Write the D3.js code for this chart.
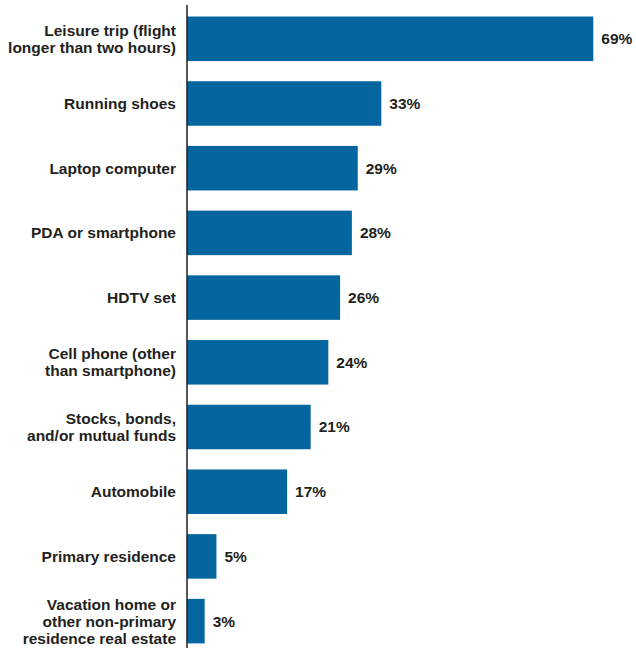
<!DOCTYPE html>
<html>
<head>
<meta charset="utf-8">
<script src="https://cdn.jsdelivr.net/npm/d3@7"></script>
<style>
  html, body { margin: 0; padding: 0; background: #fff; }
  svg { display: block; }
  text { font-family: "Liberation Sans Narrow", "Arial Narrow", "Liberation Sans", sans-serif; font-weight: bold; fill: #231f20; }
</style>
</head>
<body>
<svg id="chart" width="636" height="648"></svg>
<script>
// Purchase categories (label lines) and share of respondents, in percent
const categories = [
  ["Leisure trip (flight", "longer than two hours)"],
  ["Running shoes"],
  ["Laptop computer"],
  ["PDA or smartphone"],
  ["HDTV set"],
  ["Cell phone (other", "than smartphone)"],
  ["Stocks, bonds,", "and/or mutual funds"],
  ["Automobile"],
  ["Primary residence"],
  ["Vacation home or", "other non-primary", "residence real estate"]
];
const values = [69, 33, 29, 28, 26, 24, 21, 17, 5, 3];
const valueLabels = ["69%", "33%", "29%", "28%", "26%", "24%", "21%", "17%", "5%", "3%"];

const svg = d3.select("#chart");
const x0 = 187;
const x = d3.scaleLinear().domain([0, 69]).range([x0, 593.3]);
const y = d3.scaleBand()
  .domain(d3.range(values.length))
  .range([6.5, 653.4])
  .paddingInner(0.312)
  .paddingOuter(0.155);

const barColor = "#05669f";

svg.selectAll("rect.bar")
  .data(values)
  .join("rect")
  .attr("class", "bar")
  .attr("x", x0)
  .attr("y", (d, i) => y(i))
  .attr("width", d => x(d) - x0)
  .attr("height", y.bandwidth())
  .attr("fill", barColor);

// Category axis line
svg.append("line")
  .attr("x1", x0).attr("x2", x0)
  .attr("y1", 5).attr("y2", 648)
  .attr("stroke", "#231f20")
  .attr("stroke-width", 1.5);

const lineH = 17;
const fs = 15.5;

// Category labels, right-aligned next to the axis
const cat = svg.selectAll("text.cat")
  .data(categories)
  .join("text")
  .attr("class", "cat")
  .attr("text-anchor", "end")
  .attr("font-size", fs);
cat.each(function(lines, i) {
  const cy = y(i) + y.bandwidth() / 2;
  const startY = cy - (lines.length - 1) * lineH / 2;
  d3.select(this).selectAll("tspan")
    .data(lines)
    .join("tspan")
    .attr("x", x0 - 11)
    .attr("y", (d, j) => startY + j * lineH)
    .attr("dy", "0.35em")
    .text(d => d);
});

// Value labels at bar ends
svg.selectAll("text.val")
  .data(values)
  .join("text")
  .attr("class", "val")
  .attr("font-size", fs)
  .attr("x", d => x(d) + 8)
  .attr("y", (d, i) => y(i) + y.bandwidth() / 2)
  .attr("dy", "0.35em")
  .text((d, i) => valueLabels[i]);
</script>
</body>
</html>
